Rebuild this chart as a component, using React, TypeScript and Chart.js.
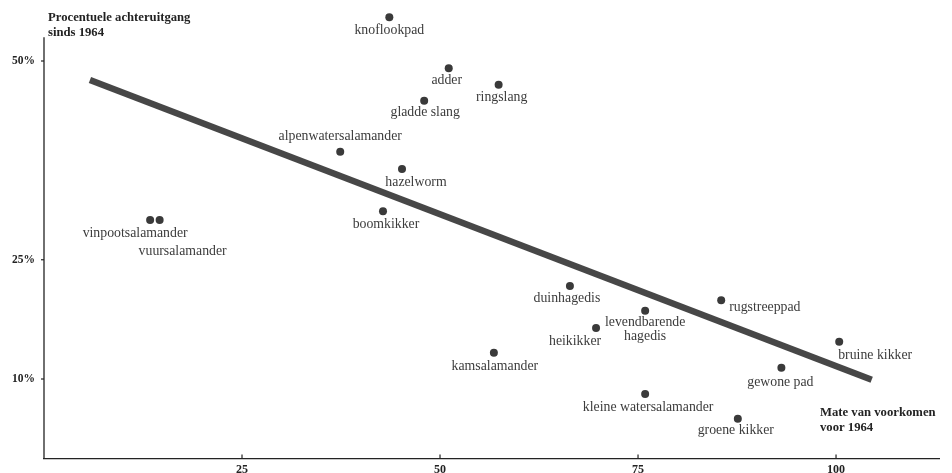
import { useEffect, useRef } from "react";
import { Chart, registerables } from "chart.js";

Chart.register(...registerables);

// ---- data ----
const species = [
  "knoflookpad",
  "adder",
  "ringslang",
  "gladde slang",
  "alpenwatersalamander",
  "hazelworm",
  "boomkikker",
  "vinpootsalamander",
  "vuursalamander",
  "duinhagedis",
  "levendbarende\nhagedis",
  "heikikker",
  "kamsalamander",
  "kleine watersalamander",
  "rugstreeppad",
  "groene kikker",
  "gewone pad",
  "bruine kikker",
];
// Mate van voorkomen voor 1964
const occurrence1964 = [43.6, 51.1, 57.4, 48.0, 37.4, 45.2, 42.8, 13.4, 14.6, 66.4, 75.9, 69.7, 56.8, 75.9, 85.5, 87.6, 93.1, 100.4];
// Procentuele achteruitgang sinds 1964
const declinePct = [55.5, 49.1, 47.0, 45.0, 38.6, 36.4, 31.1, 30.0, 30.0, 21.7, 18.6, 16.4, 13.3, 8.1, 19.9, 5.0, 11.4, 14.7];

const trendX = [5.8, 104.5];
const trendY = [47.6, 9.9];

const xTicks = [25, 50, 75, 100];
const yTicks = [10, 25, 50];
const yAxisTop = 53;

const yAxisTitle = ["Procentuele achteruitgang", "sinds 1964"];
const xAxisTitle = ["Mate van voorkomen", "voor 1964"];

// ---- label layout (pixel offsets from the dot, not data) ----
type Place = { dx: number; dy: number; align: CanvasTextAlign };
const labelPlacement: Place[] = [
  { dx: 0, dy: 13, align: "center" },
  { dx: -2, dy: 12, align: "center" },
  { dx: 3, dy: 13, align: "center" },
  { dx: 1, dy: 12, align: "center" },
  { dx: 0, dy: -15, align: "center" },
  { dx: 14, dy: 13, align: "center" },
  { dx: 3, dy: 13, align: "center" },
  { dx: -15, dy: 13, align: "center" },
  { dx: 23, dy: 31, align: "center" },
  { dx: -3, dy: 12, align: "center" },
  { dx: 0, dy: 12, align: "center" },
  { dx: -21, dy: 13, align: "center" },
  { dx: 1, dy: 14, align: "center" },
  { dx: 3, dy: 13, align: "center" },
  { dx: 8, dy: 7, align: "left" },
  { dx: -2, dy: 12, align: "center" },
  { dx: -1, dy: 14, align: "center" },
  { dx: -1, dy: 14, align: "left" },
];

const SERIF = "'Liberation Serif', 'Times New Roman', serif";
const INK = "#232323";
const LABEL_INK = "#3c3c3c";

const annotations = {
  id: "annotations",
  afterDraw(chart: any) {
    const ctx = chart.ctx as CanvasRenderingContext2D;
    const xs = chart.scales.x;
    const ys = chart.scales.y;
    ctx.save();

    const bottom = chart.chartArea.bottom;
    const left = chart.chartArea.left;

    // vertical axis line (only up to the axis top value)
    ctx.strokeStyle = INK;
    ctx.lineWidth = 1.3;
    ctx.beginPath();
    ctx.moveTo(left, ys.getPixelForValue(0));
    ctx.lineTo(left, ys.getPixelForValue(yAxisTop));
    ctx.stroke();

    // small tick marks
    ctx.lineWidth = 1.2;
    xTicks.forEach((v) => {
      const px = xs.getPixelForValue(v);
      ctx.beginPath();
      ctx.moveTo(px, bottom);
      ctx.lineTo(px, bottom - 4);
      ctx.stroke();
    });
    yTicks.forEach((v) => {
      const py = ys.getPixelForValue(v);
      ctx.beginPath();
      ctx.moveTo(left, py);
      ctx.lineTo(left - 3, py);
      ctx.stroke();
    });

    // point labels
    const meta = chart.getDatasetMeta(1);
    ctx.font = `13.8px ${SERIF}`;
    ctx.fillStyle = LABEL_INK;
    ctx.textBaseline = "middle";
    species.forEach((name, i) => {
      const el = meta.data[i];
      const p = labelPlacement[i];
      ctx.textAlign = p.align;
      name.split("\n").forEach((line, j) => {
        ctx.fillText(line, el.x + p.dx, el.y + p.dy + j * 14);
      });
    });

    // axis titles
    ctx.font = `bold 12.7px ${SERIF}`;
    ctx.fillStyle = INK;
    ctx.textAlign = "left";
    yAxisTitle.forEach((t, j) => ctx.fillText(t, 48, 18 + j * 14.5));
    xAxisTitle.forEach((t, j) => ctx.fillText(t, 820, 413 + j * 14.5));

    ctx.restore();
  },
};

const noPad = (s: any) => {
  s.paddingTop = 0;
  s.paddingBottom = 0;
  s.paddingLeft = 0;
  s.paddingRight = 0;
};

export default function App() {
  const ref = useRef<HTMLCanvasElement | null>(null);

  useEffect(() => {
    if (!ref.current) return;
    const chart = new Chart(ref.current, {
      type: "scatter",
      data: {
        datasets: [
          {
            type: "line",
            data: trendX.map((x, i) => ({ x, y: trendY[i] })),
            borderColor: "#474747",
            borderWidth: 6.5,
            borderCapStyle: "butt",
            pointRadius: 0,
            fill: false,
            order: 2,
          } as any,
          {
            type: "scatter",
            data: occurrence1964.map((x, i) => ({ x, y: declinePct[i] })),
            backgroundColor: "#3a3a3a",
            borderWidth: 0,
            pointRadius: 4,
            order: 1,
          } as any,
        ],
      },
      options: {
        animation: false,
        responsive: false,
        events: [],
        layout: { padding: { left: 0, top: 5.35, right: 13, bottom: 0 } },
        plugins: {
          legend: { display: false },
          tooltip: { enabled: false },
        },
        scales: {
          x: {
            type: "linear",
            min: 0,
            max: 113,
            afterBuildTicks: (s: any) => {
              s.ticks = xTicks.map((v) => ({ value: v }));
            },
            afterFit: (s: any) => {
              s.height = 14.5;
              noPad(s);
            },
            grid: { display: false, drawTicks: false },
            border: { display: true, color: INK, width: 1.3 },
            ticks: {
              autoSkip: false,
              maxRotation: 0,
              padding: 4,
              color: INK,
              font: { family: SERIF, size: 12, weight: "bold" },
            },
          },
          y: {
            type: "linear",
            min: 0,
            max: 57,
            afterBuildTicks: (s: any) => {
              s.ticks = yTicks.map((v) => ({ value: v }));
            },
            afterFit: (s: any) => {
              s.width = 44;
              noPad(s);
            },
            grid: { display: false, drawTicks: false },
            border: { display: false },
            ticks: {
              autoSkip: false,
              padding: 9,
              color: INK,
              font: { family: SERIF, size: 11.5, weight: "bold" },
              callback: (v: any) => `${v}%`,
            },
          },
        },
      } as any,
      plugins: [annotations],
    });
    return () => chart.destroy();
  }, []);

  return (
    <div style={{ position: "fixed", left: 0, top: 0, width: 952, height: 473, background: "#fff" }}>
      <canvas ref={ref} width={952} height={473} style={{ width: 952, height: 473 }} />
    </div>
  );
}
